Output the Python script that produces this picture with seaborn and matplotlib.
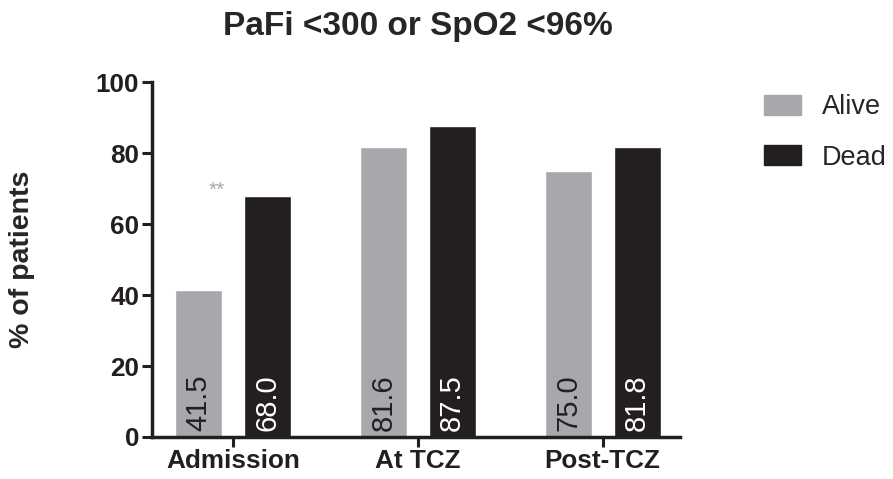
import pandas as pd
import matplotlib
matplotlib.use("Agg")
import matplotlib.pyplot as plt
import seaborn as sns
from matplotlib.patches import Patch

# Данные
timepoints = ["Admission", "At TCZ", "Post-TCZ"]
alive = [41.5, 81.6, 75.0]
dead = [68.0, 87.5, 81.8]
groups = ["Alive", "Dead"]
colors = {"Alive": "#a7a8ab", "Dead": "#231f20"}

df = pd.DataFrame({
    "Time": timepoints * 2,
    "Group": ["Alive"] * 3 + ["Dead"] * 3,
    "Value": alive + dead,
})

sns.set_style("ticks")
plt.rcParams["font.family"] = ["Liberation Sans", "DejaVu Sans"]

fig = plt.figure(figsize=(8.93, 4.79), dpi=100)
ax = fig.add_axes([0.170, 0.0877, 0.591, 0.741])

sns.barplot(data=df, x="Time", y="Value", hue="Group", palette=colors,
            width=0.744, gap=0.317, ax=ax, legend=False, saturation=1)

# Подписи значений внутри столбцов
for cont, grp in zip(ax.containers, groups):
    txt_color = "white" if grp == "Dead" else "#231f20"
    for bar in cont:
        h = bar.get_height()
        ax.text(bar.get_x() + bar.get_width() / 2, 1.8, f"{h:.1f}",
                rotation=90, ha="center", va="bottom", fontsize=21,
                color=txt_color)

ax.text(-0.085, 69.5, "**", ha="center", va="center", fontsize=15, color="#a7a8ab")

ax.set_ylim(0, 100)
ax.set_xlim(-0.438, 2.416)
ax.set_yticks([0, 20, 40, 60, 80, 100])
ax.set_xlabel("")
ax.set_ylabel("% of patients", fontsize=20.5, fontweight="bold")
ax.yaxis.set_label_coords(-0.222, 0.5)
fig.suptitle("PaFi <300 or SpO2 <96%", fontsize=24, fontweight="bold",
             x=0.468, y=0.977)
for lab in ax.get_xticklabels() + ax.get_yticklabels():
    lab.set_fontweight("bold")
    lab.set_fontsize(18.8)
    lab.set_color("#231f20")
ax.tick_params(axis="both", width=2.2, length=7, color="#231f20", pad=2)
for s in ["left", "bottom"]:
    ax.spines[s].set_linewidth(2.5)
    ax.spines[s].set_color("#231f20")
sns.despine(ax=ax)

handles = [Patch(color=colors[g], label=g) for g in groups]
fig.legend(handles=handles, loc="upper left", bbox_to_anchor=(0.855, 0.803),
           frameon=False, fontsize=19.5, handlelength=1.4, handleheight=0.78,
           labelspacing=0.9, handletextpad=0.75, borderaxespad=0, borderpad=0)

fig.savefig("out.png", dpi=100)
